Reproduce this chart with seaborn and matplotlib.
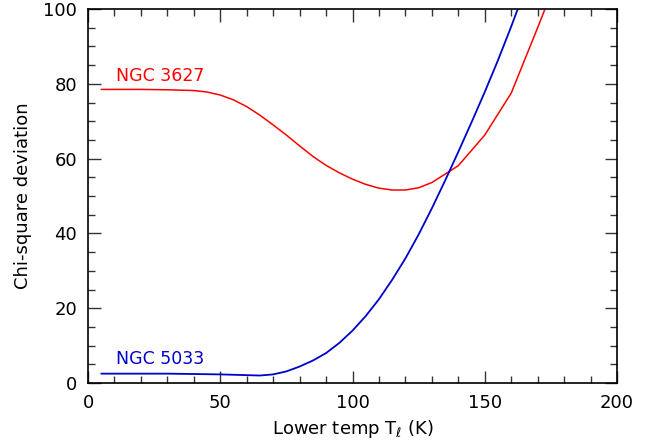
import matplotlib
matplotlib.use("Agg")
import matplotlib.pyplot as plt
from matplotlib.ticker import MultipleLocator
import seaborn as sns
import pandas as pd

# Data
temp_3627 = [5, 10, 20, 30, 40, 45, 50, 55, 60, 65, 70, 75, 80, 85, 90, 95, 100,
             105, 110, 115, 120, 125, 130, 140, 150, 160, 170, 175]
chi_3627 = [78.5, 78.5, 78.5, 78.4, 78.2, 77.8, 77.0, 75.7, 73.9, 71.6, 69.0, 66.3,
            63.4, 60.6, 58.2, 56.2, 54.5, 53.1, 52.1, 51.6, 51.6, 52.2, 53.6, 58.1,
            66.3, 77.5, 95.0, 104.0]

temp_5033 = [5, 10, 20, 30, 40, 50, 60, 65, 70, 75, 80, 85, 90, 95, 100, 105, 110,
             115, 120, 125, 130, 135, 140, 145, 150, 155, 160, 163]
chi_5033 = [2.5, 2.5, 2.5, 2.5, 2.4, 2.3, 2.1, 2.0, 2.3, 3.1, 4.4, 6.0, 8.0, 10.7,
            14.0, 17.9, 22.4, 27.6, 33.3, 39.7, 46.7, 54.1, 61.8, 69.7, 77.8, 86.3,
            95.3, 101.0]

labels = ["NGC 3627", "NGC 5033"]
colors = ["#ff0000", "#0000cc"]

sns.set_style("ticks")
plt.rcParams['font.family'] = ['DejaVu Sans']
plt.rcParams['text.color'] = 'black'
plt.rcParams['axes.labelcolor'] = 'black'
plt.rcParams['xtick.color'] = 'black'
plt.rcParams['ytick.color'] = 'black'

fig = plt.figure(figsize=(6.51, 4.42), dpi=100)
ax = fig.add_axes([88/651, 59/442, (617-88)/651, (383-9)/442])

df1 = pd.DataFrame({"T": temp_3627, "chi": chi_3627})
df2 = pd.DataFrame({"T": temp_5033, "chi": chi_5033})
sns.lineplot(data=df1, x="T", y="chi", ax=ax, color=colors[0], lw=1.1, sort=False)
sns.lineplot(data=df2, x="T", y="chi", ax=ax, color=colors[1], lw=1.3, sort=False)

ax.text(10.5, 79.6, labels[0], color=colors[0], fontsize=12.5, ha="left", va="bottom")
ax.text(10.5, 3.9, labels[1], color=colors[1], fontsize=12.5, ha="left", va="bottom")

ax.set_xlim(0, 200)
ax.set_ylim(0, 100)
ax.xaxis.set_major_locator(MultipleLocator(50))
ax.xaxis.set_minor_locator(MultipleLocator(10))
ax.yaxis.set_major_locator(MultipleLocator(20))
ax.yaxis.set_minor_locator(MultipleLocator(5))
ax.tick_params(which="both", direction="in", top=True, right=True, labelsize=13,
               width=1.0, color="#333333", labelcolor="black")
ax.tick_params(which="major", length=9, pad=8)
ax.tick_params(which="minor", length=5)
for s in ax.spines.values():
    s.set_linewidth(1.2)
    s.set_color("black")

ax.set_xlabel(r"Lower temp T$_{\ell}$ (K)", fontsize=13, labelpad=4, color="black")
ax.set_ylabel("Chi-square deviation", fontsize=13, labelpad=8, color="black")

fig.savefig("out.png", dpi=100)
